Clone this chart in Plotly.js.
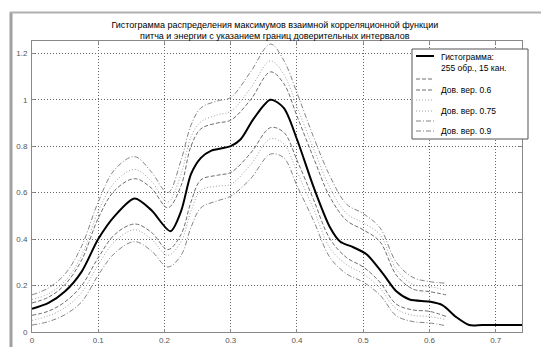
<!DOCTYPE html>
<html>
<head>
<meta charset="utf-8">
<script src="https://cdn.plot.ly/plotly-3.0.1.min.js"></script>
<style>html,body{margin:0;padding:0;background:#fff;}#chart{width:541px;height:347px;}</style>
</head>
<body>
<div id="chart"></div>
<script>
// ---- data ----
const xBand = [0, 0.025, 0.05, 0.075, 0.1, 0.125, 0.155, 0.18, 0.205, 0.225, 0.24, 0.255, 0.28, 0.3, 0.33, 0.36, 0.38, 0.4, 0.425, 0.45, 0.475, 0.5, 0.525, 0.55, 0.575, 0.6, 0.625];
const xHist = [0, 0.025, 0.05, 0.075, 0.1, 0.125, 0.155, 0.18, 0.209, 0.225, 0.24, 0.255, 0.27, 0.3, 0.315, 0.335, 0.36, 0.38, 0.4, 0.425, 0.45, 0.465, 0.485, 0.505, 0.53, 0.55, 0.57, 0.6, 0.62, 0.64, 0.66, 0.68, 0.74];
const hist = [0.10, 0.125, 0.175, 0.26, 0.40, 0.50, 0.575, 0.525, 0.434, 0.52, 0.68, 0.75, 0.78, 0.80, 0.83, 0.92, 1.0, 0.965, 0.83, 0.625, 0.45, 0.39, 0.365, 0.335, 0.25, 0.175, 0.14, 0.131, 0.115, 0.065, 0.03, 0.03, 0.03];
const up06 = [0.125, 0.15, 0.205, 0.31, 0.49, 0.61, 0.66, 0.62, 0.535, 0.63, 0.80, 0.875, 0.90, 0.912, 1.0, 1.12, 1.07, 0.93, 0.75, 0.58, 0.48, 0.44, 0.39, 0.245, 0.185, 0.174, 0.16];
const lo06 = [0.072, 0.09, 0.13, 0.20, 0.32, 0.42, 0.465, 0.43, 0.355, 0.42, 0.56, 0.655, 0.675, 0.687, 0.77, 0.88, 0.86, 0.74, 0.57, 0.40, 0.32, 0.28, 0.215, 0.12, 0.095, 0.089, 0.067];
const up075 = [0.14, 0.165, 0.22, 0.33, 0.52, 0.645, 0.70, 0.65, 0.56, 0.68, 0.84, 0.905, 0.935, 0.95, 1.05, 1.167, 1.11, 0.97, 0.79, 0.62, 0.51, 0.47, 0.42, 0.27, 0.205, 0.196, 0.18];
const lo075 = [0.05, 0.07, 0.105, 0.17, 0.29, 0.39, 0.44, 0.40, 0.33, 0.39, 0.52, 0.61, 0.628, 0.636, 0.72, 0.832, 0.81, 0.69, 0.53, 0.36, 0.29, 0.25, 0.19, 0.10, 0.072, 0.067, 0.053];
const up09 = [0.16, 0.19, 0.25, 0.37, 0.56, 0.70, 0.755, 0.69, 0.60, 0.74, 0.89, 0.965, 0.995, 1.01, 1.12, 1.24, 1.17, 1.03, 0.84, 0.67, 0.55, 0.51, 0.45, 0.30, 0.235, 0.217, 0.21];
const lo09 = [0.03, 0.045, 0.075, 0.13, 0.245, 0.34, 0.389, 0.35, 0.28, 0.33, 0.45, 0.535, 0.565, 0.585, 0.66, 0.766, 0.75, 0.63, 0.48, 0.32, 0.25, 0.215, 0.16, 0.07, 0.045, 0.039, 0.027];
const xTicks = [0, 0.1, 0.2, 0.3, 0.4, 0.5, 0.6, 0.7];
const yTicks = [0, 0.2, 0.4, 0.6, 0.8, 1, 1.2];
const titleLines = ['Гистограмма распределения максимумов взаимной корреляционной функции', 'питча и энергии с указанием границ доверительных интервалов'];
const legendLabels = [['Гистограмма:', '255 обр., 15 кан.'], [''], ['Дов. вер. 0.6'], [''], ['Дов. вер. 0.75'], [''], ['Дов. вер. 0.9']];

// ---- styles ----
const sty06 = {color: '#6e6e6e', width: 1, dash: '4px,2px'};
const sty075 = {color: '#a0a0a0', width: 1, dash: '1px,2px'};
const sty09 = {color: '#858585', width: 1, dash: '5px,2px,1px,2px'};
const histSty = {color: '#000', width: 2};

function band(y, st) {
  return {x: xBand, y: y, type: 'scatter', mode: 'lines', line: Object.assign({shape: 'spline', smoothing: 1}, st), showlegend: false, hoverinfo: 'skip'};
}
const traces = [
  band(up09, sty09), band(lo09, sty09),
  band(up075, sty075), band(lo075, sty075),
  band(up06, sty06), band(lo06, sty06),
  {x: xHist, y: hist, type: 'scatter', mode: 'lines', line: Object.assign({shape: 'spline', smoothing: 0.8}, histSty), showlegend: false}
];

// ---- custom compact legend (pixel geometry converted to paper coords) ----
const W = 541, H = 347, mL = 32, mR = 19, mT = 41, mB = 15;
const pw = W - mL - mR, ph = H - mT - mB;
const px = v => (v - mL) / pw;
const py = v => (H - mB - v) / ph;
const shapes = [];
const annotations = [];
shapes.push({type: 'rect', xref: 'paper', yref: 'paper', x0: px(412), x1: px(528), y0: py(49), y1: py(139), line: {color: '#555', width: 1}, fillcolor: '#fff', layer: 'above'});
const rowY = [56, 79, 90, 100, 111, 121, 131];
const rowSty = [histSty, sty06, sty06, sty075, sty075, sty09, sty09];
for (let i = 0; i < rowY.length; i++) {
  const s = rowSty[i];
  shapes.push({type: 'line', xref: 'paper', yref: 'paper', x0: px(416), x1: px(434), y0: py(rowY[i]), y1: py(rowY[i]), line: {color: s.color, width: s.width, dash: s.dash}, layer: 'above'});
  const lab = legendLabels[i];
  if (lab[0] !== '') {
    annotations.push({xref: 'paper', yref: 'paper', x: px(439), y: py(rowY[i]), xanchor: 'left', yanchor: lab.length > 1 ? 'top' : 'middle', yshift: lab.length > 1 ? 6 : 0, text: lab.join('<br>'), showarrow: false, align: 'left', font: {family: 'Liberation Sans, Arial, sans-serif', size: 8.5, color: '#000'}});
  }
}
// window frame edges seen in the screenshot
shapes.push({type: 'line', xref: 'paper', yref: 'paper', x0: px(11), x1: px(11), y0: py(12), y1: py(347), line: {color: '#a0a0a0', width: 3}});
shapes.push({type: 'line', xref: 'paper', yref: 'paper', x0: px(10), x1: px(541), y0: py(12.5), y1: py(12.5), line: {color: '#b0b0b0', width: 2}});

const axisCommon = {
  showgrid: true, gridcolor: '#666', griddash: '1px,2px', gridwidth: 1,
  zeroline: false, showline: true, linecolor: '#888', linewidth: 1, mirror: 'ticks',
  ticks: 'inside', ticklen: 3, tickcolor: '#888',
  tickfont: {family: 'Liberation Sans, Arial, sans-serif', size: 8, color: '#555'}
};

const layout = {
  width: W, height: H,
  margin: {l: mL, r: mR, t: mT, b: mB, pad: 0},
  paper_bgcolor: '#fff', plot_bgcolor: '#fff',
  title: {text: titleLines.join('<br>'), x: 0.508, xanchor: 'center', y: 1 - 27.5 / H, yanchor: 'middle', font: {family: 'Liberation Sans, Arial, sans-serif', size: 9, color: '#000'}},
  xaxis: Object.assign({}, axisCommon, {range: [0, 0.7397], tickvals: xTicks, ticktext: xTicks.map(String), ticklabelstandoff: 0}),
  yaxis: Object.assign({}, axisCommon, {range: [0, 1.253], tickvals: yTicks, ticktext: yTicks.map(String), ticklabelstandoff: 2}),
  shapes: shapes, annotations: annotations, showlegend: false
};
Plotly.newPlot('chart', traces, layout, {staticPlot: true, displayModeBar: false});
</script>
</body>
</html>
